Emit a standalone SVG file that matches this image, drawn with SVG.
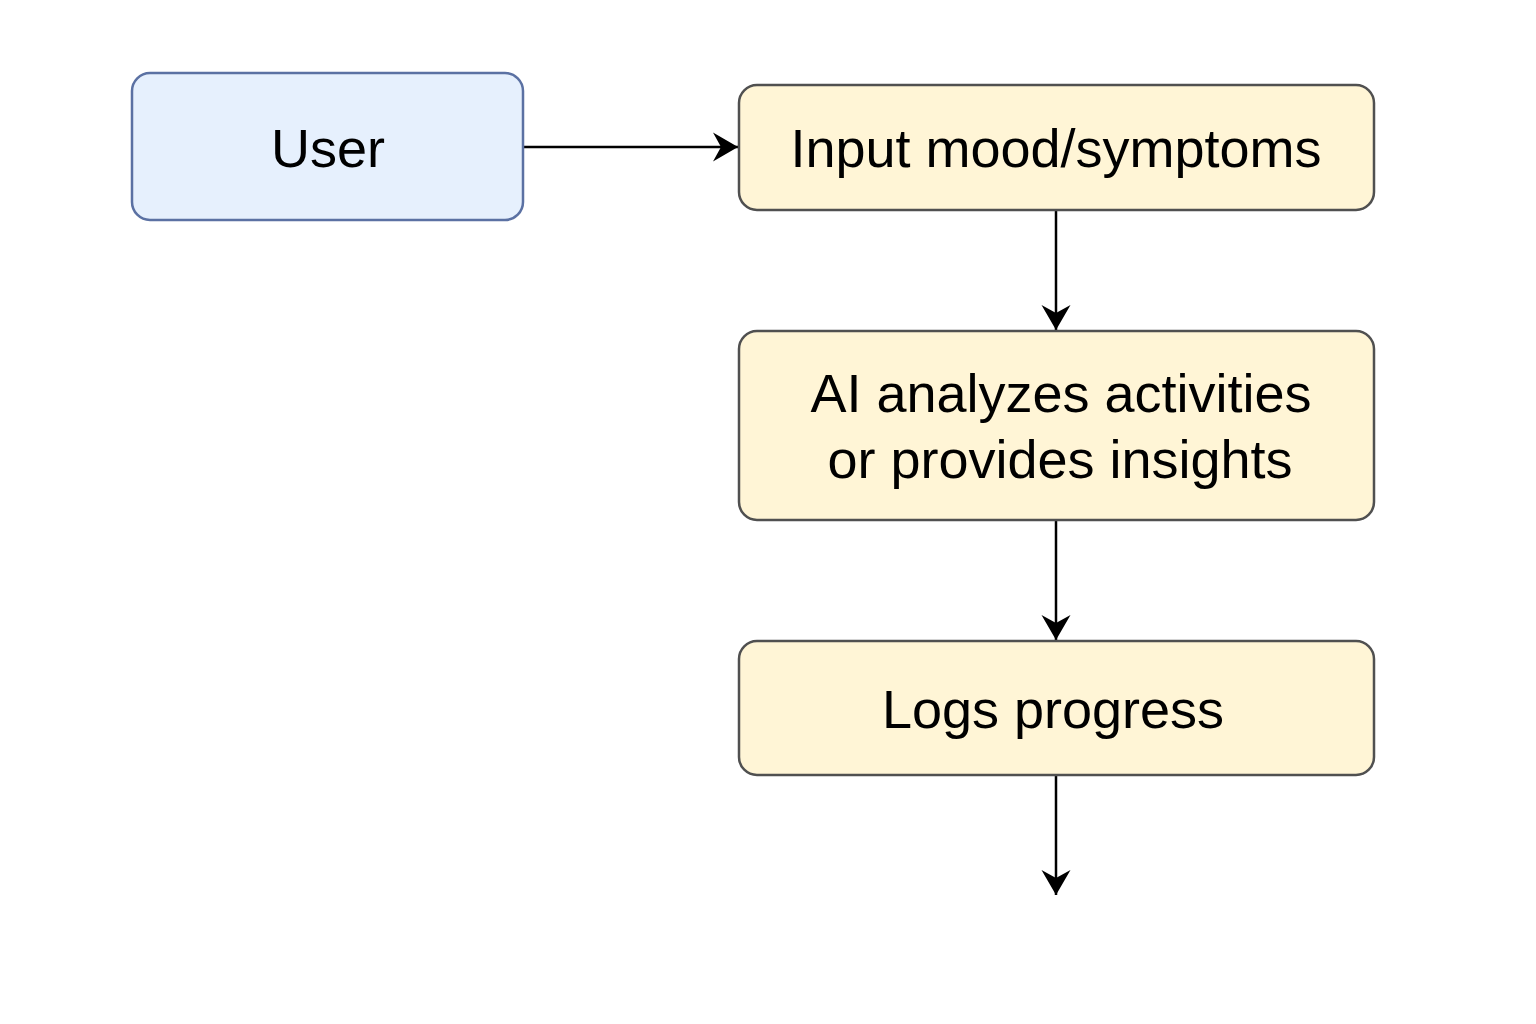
<svg xmlns="http://www.w3.org/2000/svg" width="1536" height="1024" viewBox="0 0 1536 1024">
  <defs>
    <marker id="arrow" markerUnits="userSpaceOnUse" markerWidth="40" markerHeight="40" viewBox="-30 -20 40 40" refX="0" refY="0" orient="auto">
      <path d="M0,0 L-25,-14.5 L-17,0 L-25,14.5 Z" fill="#000"/>
    </marker>
    <style>
      .box-blue { fill: #e6f0fd; stroke: #5b71a3; stroke-width: 2.5; }
      .box-yellow { fill: #fff5d6; stroke: #505050; stroke-width: 2.5; }
      .label { font-family: "Liberation Sans", Arial, sans-serif; font-size: 54px; fill: #000; text-anchor: middle; }
      .conn { stroke: #000; stroke-width: 2.5; fill: none; marker-end: url(#arrow); }
    </style>
  </defs>
  <rect width="1536" height="1024" fill="#ffffff"/>
  <g id="connectors">
    <line class="conn" x1="523" y1="147" x2="738" y2="147"/>
    <line class="conn" x1="1056" y1="210" x2="1056" y2="330"/>
    <line class="conn" x1="1056" y1="520" x2="1056" y2="640"/>
    <line class="conn" x1="1056" y1="775" x2="1056" y2="895"/>
  </g>
  <g id="node-user">
    <rect class="box-blue" x="132" y="73" width="391" height="147" rx="18"/>
    <text class="label" x="328" y="167">User</text>
  </g>
  <g id="node-input">
    <rect class="box-yellow" x="739" y="85" width="635" height="125" rx="18"/>
    <text class="label" x="1056" y="167">Input mood/symptoms</text>
  </g>
  <g id="node-ai">
    <rect class="box-yellow" x="739" y="331" width="635" height="189" rx="18"/>
    <text class="label" x="1061" y="412">AI analyzes activities</text>
    <text class="label" x="1060" y="478">or provides insights</text>
  </g>
  <g id="node-logs">
    <rect class="box-yellow" x="739" y="641" width="635" height="134" rx="18"/>
    <text class="label" x="1053" y="728">Logs progress</text>
  </g>
</svg>
